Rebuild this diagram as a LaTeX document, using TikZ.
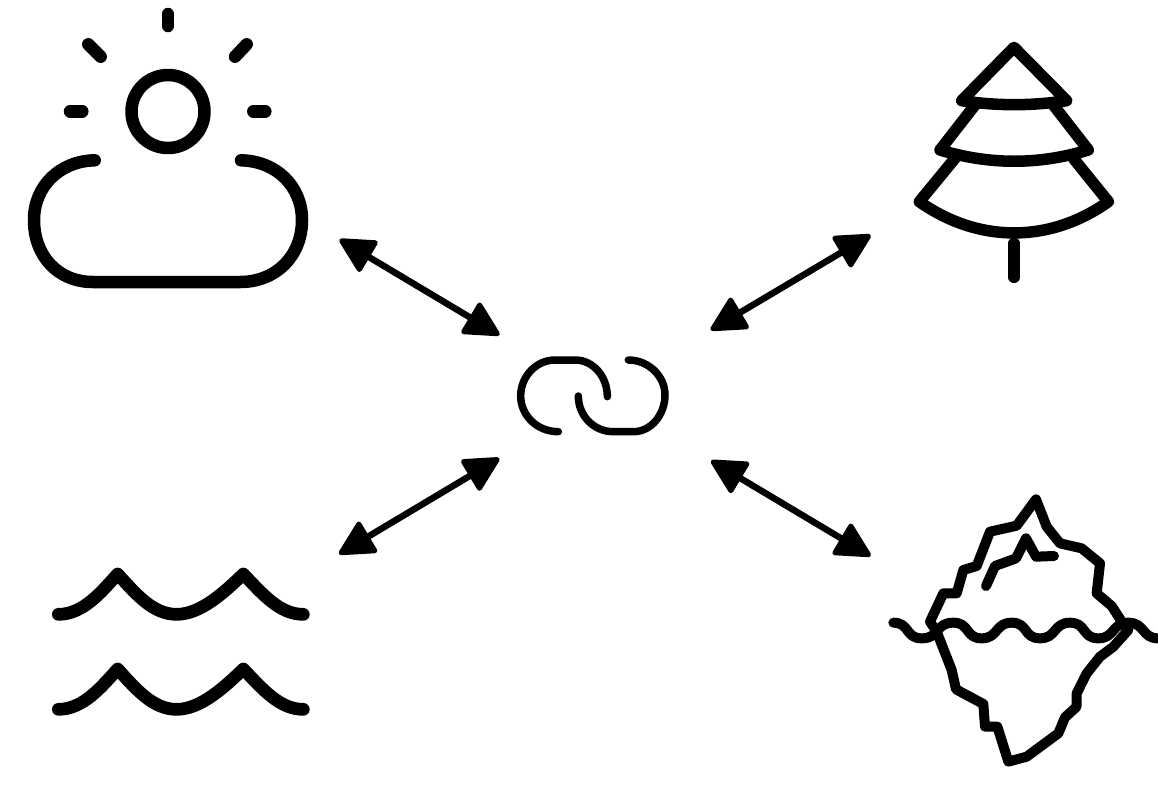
\documentclass[tikz,border=0pt]{standalone}
\usetikzlibrary{arrows.meta}
\tikzset{
  icon/.style={line width=#1,line cap=round,line join=round,draw=black},
  zoomed/.style={x={(0.33333pt,0pt)},y={(0pt,-0.33333pt)}},
  linkarrow/.style={line width=6.5pt,{Triangle[length=38pt,width=38pt,round,line width=5pt]}-{Triangle[length=38pt,width=38pt,round,line width=5pt]}}
}
\begin{document}
\begin{tikzpicture}[x=1pt,y=-1pt]
\useasboundingbox (0,0) rectangle (1158,785);
% connector end points
\coordinate (sunEnd) at (339.5,239.5);
\coordinate (hubNW) at (499.5,335);
\coordinate (treeEnd) at (870.7,235);
\coordinate (hubNE) at (710.7,330);
\coordinate (waveEnd) at (339,554);
\coordinate (hubSW) at (499.3,458.3);
\coordinate (bergEnd) at (870.7,556);
\coordinate (hubSE) at (711,460.7);
\draw[linkarrow] (sunEnd) -- (hubNW);
\draw[linkarrow] (treeEnd) -- (hubNE);
\draw[linkarrow] (waveEnd) -- (hubSW);
\draw[linkarrow] (bergEnd) -- (hubSE);
% sun and cloud
\begin{scope}[icon=12.5pt]
\draw (168,111.5) circle (36.5);
\draw (168,14) -- (168,26);
\draw (88.3,44.3) -- (100.7,56.7);
\draw (246.7,44.3) -- (235,56.7);
\draw (70,111.3) -- (82.3,111.3);
\draw (253.3,111.3) -- (265.3,111.3);
\draw (94.7,160.3) .. controls (60,161) and (34,186) .. (34,220)
  .. controls (34,256) and (58,282) .. (93,282) -- (240,282)
  .. controls (276,282) and (302,256) .. (302,220)
  .. controls (302,186) and (276,161) .. (241,160.3);
\end{scope}
% tree
\begin{scope}[icon=11.5pt,shift={(900,30)},zoomed]
\draw (342,52) -- (185,212) .. controls (290,228) and (395,228) .. (500,212) -- cycle;
\draw (225,225) -- (120,360) .. controls (270,405) and (415,405) .. (565,360) -- (460,225);
\draw (165,385) -- (58,515) .. controls (235,640) and (450,640) .. (625,515) -- (520,385);
\draw (342,640) -- (342,742);
\end{scope}
% link
\begin{scope}[icon=7.5pt,shift={(500,340)},zoomed]
\draw (175,275) .. controls (110,275) and (62,225) .. (62,168)
  .. controls (62,108) and (110,60) .. (165,60) -- (225,60)
  .. controls (280,60) and (322,110) .. (322,170);
\draw (235,168) .. controls (235,228) and (282,275) .. (340,275) -- (400,275)
  .. controls (455,275) and (495,222) .. (495,165)
  .. controls (495,108) and (445,60) .. (385,60);
\end{scope}
% waves
\begin{scope}[icon=12.7pt,shift={(40,550)},zoomed]
\foreach \dy in {0,285}{
\draw[yshift=-\dy*0.33333pt] (55,193) .. controls (130,193) and (185,125) .. (233,72)
  .. controls (290,135) and (340,193) .. (410,193)
  .. controls (480,193) and (550,130) .. (610,72)
  .. controls (670,135) and (720,193) .. (790,193);
}
\end{scope}
% iceberg
\begin{scope}[icon=10pt,shift={(880,480)},zoomed]
\draw (170,455) -- (150,425) -- (190,340) -- (230,340) -- (250,270) -- (290,258) -- (330,155) -- (410,137) -- (468,58) -- (500,140) -- (540,190) -- (605,205) -- (660,250) -- (650,340) -- (695,378) -- (735,440);
\draw (170,455) -- (215,570) -- (228,628) -- (310,672) -- (315,740) -- (352,740) -- (385,845) -- (440,830) -- (535,760) -- (555,712) -- (590,680) -- (590,640) -- (620,580) -- (660,530) -- (700,500) -- (745,450);
\draw (318,318) -- (345,258) -- (408,235) -- (438,175) -- (468,230) -- (522,228);
\draw (40,428) .. controls (90,428) and (75,475) .. (125,475)
  .. controls (180,475) and (165,428) .. (220,428)
  .. controls (270,428) and (255,475) .. (305,475)
  .. controls (355,475) and (345,428) .. (395,428)
  .. controls (445,428) and (430,475) .. (480,475)
  .. controls (530,475) and (520,428) .. (570,428)
  .. controls (620,428) and (605,475) .. (655,475)
  .. controls (705,475) and (695,428) .. (745,428)
  .. controls (795,428) and (785,475) .. (834,475);
\end{scope}
\end{tikzpicture}
\end{document}
